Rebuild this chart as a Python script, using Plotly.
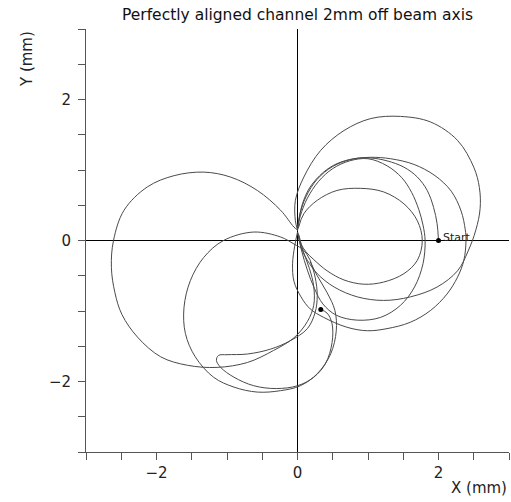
import plotly.graph_objects as go

# Trajectory (mm), loop by loop
start_x = [2.00, 1.98, 1.93, 1.84, 1.70, 1.51, 1.27, 1.04, 0.80, 0.56, 0.37, 0.18, 0.07, 0.02, 0.00]
start_y = [0.00, 0.24, 0.47, 0.71, 0.90, 1.04, 1.13, 1.17, 1.16, 1.09, 0.97, 0.76, 0.52, 0.28, 0.14]

small_x = [0.00, 0.05, 0.12, 0.23, 0.42, 0.66, 0.94, 1.22, 1.51, 1.70, 1.77, 1.70, 1.51, 1.22, 0.89, 0.56, 0.28, 0.09, 0.01]
small_y = [0.12, -0.05, -0.16, -0.27, -0.43, -0.56, -0.62, -0.59, -0.47, -0.28, 0.00, 0.28, 0.52, 0.69, 0.74, 0.71, 0.57, 0.38, 0.17]

r2_x = [0.00, 0.06, 0.14, 0.24, 0.36, 0.55, 0.85, 1.18, 1.46, 1.66, 1.78, 1.81, 1.78, 1.72, 1.62, 1.48, 1.27, 1.00, 0.74, 0.50, 0.30, 0.14, 0.04, 0.00]
r2_y = [0.12, -0.15, -0.42, -0.68, -0.90, -1.06, -1.13, -1.09, -0.92, -0.66, -0.33, 0.00, 0.22, 0.44, 0.68, 0.89, 1.06, 1.16, 1.13, 1.02, 0.84, 0.60, 0.35, 0.17]

r3_x = [0.00, -0.04, -0.07, -0.05, 0.05, 0.18, 0.37, 0.70, 0.99, 1.27, 1.60, 1.89, 2.12, 2.27, 2.36, 2.39, 2.38, 2.32, 2.18, 1.95, 1.65, 1.32, 1.04, 0.76, 0.50, 0.28, 0.12, 0.03, 0.00]
r3_y = [0.12, -0.08, -0.33, -0.58, -0.80, -0.97, -1.09, -1.23, -1.28, -1.25, -1.16, -0.99, -0.76, -0.52, -0.28, 0.00, 0.15, 0.42, 0.70, 0.92, 1.08, 1.16, 1.18, 1.15, 1.05, 0.87, 0.62, 0.36, 0.17]

r4_x = [0.00, 0.06, 0.14, 0.28, 0.52, 0.85, 1.22, 1.60, 1.98, 2.27, 2.42, 2.53, 2.59, 2.58, 2.50, 2.27, 1.89, 1.46, 1.04, 0.66, 0.33, 0.09, -0.03, -0.03, 0.00]
r4_y = [0.12, -0.12, -0.28, -0.47, -0.66, -0.80, -0.85, -0.80, -0.66, -0.43, -0.15, 0.15, 0.45, 0.75, 1.04, 1.42, 1.68, 1.76, 1.73, 1.56, 1.28, 0.90, 0.57, 0.28, 0.15]

l1_x = [0.00, -0.05, -0.24, -0.57, -0.95, -1.33, -1.75, -2.13, -2.46, -2.61, -2.64, -2.59, -2.49, -2.27, -1.94, -1.56, -1.14, -0.71, -0.34, -0.05, 0.14, 0.23, 0.23, 0.17, 0.08, 0.02]
l1_y = [0.15, 0.19, 0.43, 0.71, 0.90, 0.97, 0.92, 0.76, 0.43, 0.00, -0.38, -0.74, -1.05, -1.37, -1.65, -1.77, -1.80, -1.73, -1.56, -1.38, -1.15, -0.92, -0.65, -0.40, -0.15, 0.08]

bl_x = [0.18, 0.09, -0.05, -0.24, -0.62, -1.05, -1.33, -1.52, -1.61, -1.59, -1.45, -1.19, -0.90, -0.57, -0.24, 0.04, 0.28, 0.47, 0.55, 0.53, 0.42, 0.28, 0.18]
bl_y = [-0.28, -0.14, -0.05, 0.05, 0.12, 0.00, -0.24, -0.57, -0.95, -1.32, -1.65, -1.94, -2.08, -2.15, -2.13, -2.06, -1.89, -1.61, -1.28, -0.99, -0.74, -0.50, -0.30]

hook_x = [0.18, 0.25, 0.28, 0.25, 0.14, -0.10, -0.38, -0.71, -1.00, -1.12, -1.15, -1.09, -0.90, -0.62, -0.30, 0.00, 0.23, 0.40, 0.49, 0.49, 0.42, 0.33]
hook_y = [-0.28, -0.52, -0.78, -1.02, -1.25, -1.42, -1.54, -1.61, -1.62, -1.63, -1.70, -1.80, -1.94, -2.06, -2.10, -2.06, -1.94, -1.74, -1.45, -1.18, -1.03, -0.98]

loops = [(start_x, start_y), (small_x, small_y), (r2_x, r2_y), (r3_x, r3_y),
         (r4_x, r4_y), (l1_x, l1_y), (bl_x, bl_y), (hook_x, hook_y)]

tick_vals = [-3, -2.5, -2, -1.5, -1, -0.5, 0, 0.5, 1, 1.5, 2, 2.5, 3]
tick_text = ["", "", "\u22122", "", "", "", "0", "", "", "", "2", "", ""]

FONT = "DejaVu Sans"

fig = go.Figure()
for lx, ly in loops:
    fig.add_trace(go.Scatter(x=lx, y=ly, mode="lines",
                             line=dict(color="#4a4a4a", width=1, shape="spline", smoothing=1.0),
                             hoverinfo="skip", showlegend=False))

fig.add_trace(go.Scatter(x=[start_x[0], hook_x[-1]], y=[start_y[0], hook_y[-1]],
                         mode="markers", marker=dict(color="black", size=5),
                         showlegend=False))

axis_common = dict(range=[-3, 3], showgrid=False, showline=True, linecolor="#555",
                   linewidth=1, ticks="outside", ticklen=7, tickcolor="#555", tickwidth=1,
                   tickvals=tick_vals, ticktext=tick_text, zeroline=True,
                   zerolinecolor="black", zerolinewidth=1,
                   tickfont=dict(family=FONT, size=15, color="#222"))

fig.update_layout(
    width=511, height=502,
    margin=dict(l=86, r=2, t=29, b=50),
    paper_bgcolor="white", plot_bgcolor="white",
    xaxis=dict(**axis_common),
    yaxis=dict(**axis_common, ticklabelstandoff=4),
    title=dict(text="Perfectly aligned channel 2mm off beam axis", xref="paper", x=0.5,
               xanchor="center", yref="container", y=1 - 15 / 502, yanchor="middle",
               font=dict(family=FONT, size=15.5, color="#111")),
    annotations=[
        dict(text="Start", x=start_x[0], y=start_y[0], xref="x", yref="y",
             xanchor="left", yanchor="middle", xshift=2, yshift=3, showarrow=False,
             font=dict(family=FONT, size=11, color="#222")),
        dict(text="Y (mm)", x=-0.1395, y=0.929, xref="paper", yref="paper", textangle=-90,
             xanchor="center", yanchor="middle", showarrow=False,
             font=dict(family=FONT, size=15, color="#222")),
        dict(text="X (mm)", x=1, y=-0.085, xref="paper", yref="paper",
             xanchor="right", yanchor="middle", showarrow=False,
             font=dict(family=FONT, size=15, color="#222")),
    ],
)

fig.write_html("out.html")
